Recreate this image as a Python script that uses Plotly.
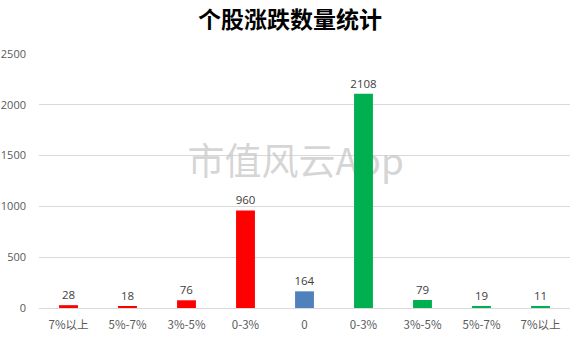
import plotly.graph_objects as go

categories = ["7%以上", "5%-7%", "3%-5%", "0-3%", "0", "0-3%", "3%-5%", "5%-7%", "7%以上"]
counts = [28, 18, 76, 960, 164, 2108, 79, 19, 11]
bar_colors = ["#FF0000", "#FF0000", "#FF0000", "#FF0000", "#4F81BD",
              "#00B050", "#00B050", "#00B050", "#00B050"]
y_ticks = [0, 500, 1000, 1500, 2000, 2500]
title_text = "个股涨跌数量统计"
watermark = "市值风云App"

idx = list(range(len(categories)))

fig = go.Figure()

# watermark on base axes (drawn beneath bars)
fig.add_trace(go.Scatter(
    x=[3.85], y=[1400], mode="text", text=[watermark],
    textfont=dict(family="Noto Sans CJK SC", size=37, color="rgba(200,200,200,0.75)"),
    hoverinfo="skip", showlegend=False, xaxis="x", yaxis="y"))

fig.add_trace(go.Bar(
    x=idx, y=counts, marker=dict(color=bar_colors, line=dict(width=0)),
    text=[str(v) for v in counts], textposition="outside", cliponaxis=False,
    constraintext="none",
    textfont=dict(family="Open Sans, Liberation Sans", size=11.5, color="#404040"),
    width=0.32, showlegend=False, xaxis="x2", yaxis="y2"))

fig.update_layout(
    width=580, height=337,
    margin=dict(l=39, r=10, t=54, b=29, autoexpand=False),
    paper_bgcolor="white", plot_bgcolor="white",
    title=dict(text=title_text, x=0.5, xanchor="center", y=1 - 20 / 337, yanchor="middle",
               font=dict(family="Noto Sans CJK SC", size=23, color="#000000", weight="bold")),
    xaxis=dict(range=[-0.5, 8.5], visible=False, fixedrange=True, automargin=False),
    yaxis=dict(range=[0, 2500], tickvals=y_ticks, showgrid=True, gridcolor="#D9D9D9",
               gridwidth=1, zeroline=False, showline=False, ticks="", automargin=False,
               tickfont=dict(family="Open Sans, Liberation Sans", size=11, color="#595959"),
               ticklabelstandoff=12),
    xaxis2=dict(range=[-0.5, 8.5], overlaying="x", tickvals=idx, ticktext=categories,
                showgrid=False, zeroline=False, showline=True, linecolor="#D9D9D9", linewidth=1,
                ticks="", side="bottom", ticklabelstandoff=6, automargin=False,
                tickfont=dict(family="Noto Sans CJK SC", size=11.5, color="#595959")),
    yaxis2=dict(range=[0, 2500], overlaying="y", visible=False, showgrid=False, automargin=False),
)

fig.write_html("out.html")
